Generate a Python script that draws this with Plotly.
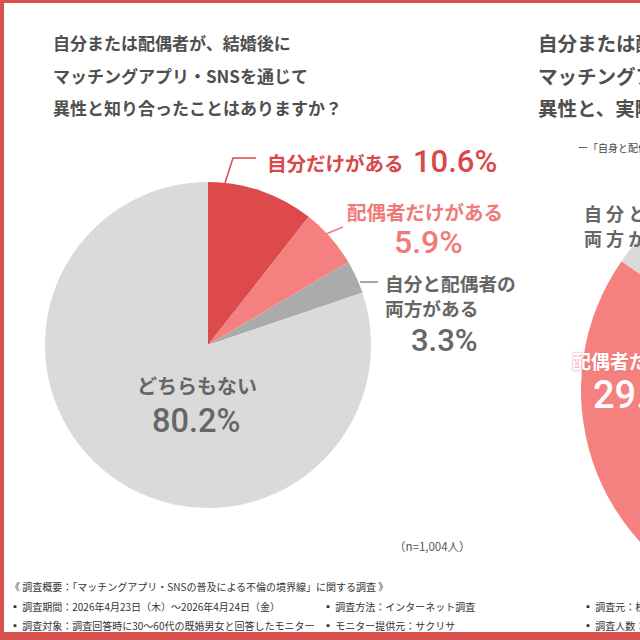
import plotly.graph_objects as go

W, H = 1280, 640

# ---- data ----
q1_labels = ["自分だけがある", "配偶者だけがある", "自分と配偶者の両方がある", "どちらもない"]
q1_values = [10.6, 5.9, 3.3, 80.2]
q1_colors = ["#dc4a4b", "#f58080", "#ababab", "#dadada"]

q2_labels = ["自分だけがある", "配偶者だけがある", "自分と配偶者の両方がある"]
q2_values = [55.2, 29.5, 15.3]
q2_colors = ["#dc4a4b", "#f58080", "#dadada"]

q1_title = ["自分または配偶者が、結婚後に", "マッチングアプリ・SNSを通じて", "異性と知り合ったことはありますか？"]
q2_title = ["自分または配偶者が、", "マッチングアプリ・SNSで知り合った", "異性と、実際に会ったことはありますか？"]
q2_sub = "ー「自身と配偶者のいずれかがある」と回答した人ー"
n_label = "（n=1,004人）"
footer = [
    ["《 調査概要：「マッチングアプリ・SNSの普及による不倫の境界線」に関する調査 》"],
    ["▪ 調査期間：2026年4月23日（木）～2026年4月24日（金）", "▪ 調査方法：インターネット調査", "▪ 調査元：株式会社サクリサ"],
    ["▪ 調査対象：調査回答時に30～60代の既婚男女と回答したモニター", "▪ モニター提供元：サクリサ", "▪ 調査人数：1,004人"],
]

JP = "Noto Sans CJK JP"
NUM = "Roboto, Noto Sans"
RED = "#d9484a"
PINK = "#f07a7a"
GRAY = "#666666"
TITLE = "#4f4f4f"


def px(x):
    return x / W


def py(y):
    return 1 - y / H


fig = go.Figure()

# left pie: center (208,345) r=163
cx, cy, r = 208, 345, 163
fig.add_trace(go.Pie(
    labels=q1_labels, values=q1_values, sort=False, direction="clockwise", rotation=0,
    marker=dict(colors=q1_colors, line=dict(width=0)), textinfo="none", hoverinfo="skip",
    domain=dict(x=[px(cx - r), px(cx + r)], y=[py(cy + r), py(cy - r)]), showlegend=False,
))

# right pie (partially visible)
cx2, cy2, r2 = 806, 390, 225
fig.add_trace(go.Pie(
    labels=q2_labels, values=q2_values, sort=False, direction="clockwise", rotation=0,
    marker=dict(colors=q2_colors, line=dict(width=0)), textinfo="none", hoverinfo="skip",
    domain=dict(x=[px(cx2 - r2), px(cx2 + r2)], y=[py(cy2 + r2), py(cy2 - r2)]), showlegend=False,
))

ann = []


def add(text, x, y, size, color, family=JP, weight="bold", xa="left", ya="middle", shadow=None):
    f = dict(family=family, size=size, color=color, weight=weight)
    if shadow:
        f["shadow"] = shadow
    ann.append(dict(text=text, x=px(x), y=py(y), xref="paper", yref="paper", showarrow=False,
                    xanchor=xa, yanchor=ya, font=f))


# titles
for i, t in enumerate(q1_title):
    add(t, 51, 43 + i * 32.5, 17, TITLE)
for i, t in enumerate(q2_title):
    add(t, 536, 43 + i * 32.5, 19.5, TITLE)
add(q2_sub, 576, 147, 10, "#444444", weight="normal")

# left labels
add(q1_labels[0], 265, 162, 19.5, RED)
add(f"{q1_values[0]}%", 411, 161, 31, RED, family=NUM, weight=500)
add(q1_labels[1], 345, 211, 19.5, PINK)
add(f"{q1_values[1]}%", 428, 242, 32, PINK, family=NUM, weight=500, xa="center")
add("自分と配偶者の", 383, 282, 18.7, GRAY)
add("両方がある", 383, 307, 18.7, GRAY)
add(f"{q1_values[2]}%", 444, 340, 31, GRAY, family=NUM, weight=500, xa="center")
add(q1_labels[3], 197, 385, 20, GRAY, xa="center")
add(f"{q1_values[3]}%", 196, 421, 32.5, GRAY, family=NUM, weight=500, xa="center")

# right labels
add("自 分 と 配 偶 者 の", 582, 213, 18, GRAY)
add("両 方 が あ る", 582, 238, 18, GRAY)
add(q2_labels[1], 570, 360, 19, "#ffffff", shadow="0px 0px 2px #e86a6a")
add(f"{q2_values[1]}%", 591, 395, 38, "#ffffff", family=NUM, weight=500)

# n and footer
add(n_label, 432, 546, 11.5, "#555555", weight="normal", xa="center")
fx = [8, 321, 581]
fy = [586, 606, 625]
for row, items in enumerate(footer):
    for j, t in enumerate(items):
        add(t, fx[j], fy[row], 10, "#333333", weight="normal")

shapes = []


def line_path(pts, color):
    d = "M " + " L ".join(f"{px(x)},{py(y)}" for x, y in pts)
    shapes.append(dict(type="path", path=d, xref="paper", yref="paper",
                       line=dict(color=color, width=1.5)))


line_path([(225, 183), (233, 158), (256, 158)], RED)
line_path([(326, 234), (343, 227)], PINK)
line_path([(360, 282), (378, 282)], "#888888")

# frame
BORDER = "#d9514f"
shapes.append(dict(type="rect", xref="paper", yref="paper", x0=0, x1=px(4), y0=0, y1=1,
                   fillcolor=BORDER, line=dict(width=0)))
shapes.append(dict(type="rect", xref="paper", yref="paper", x0=0, x1=1, y0=py(3), y1=1,
                   fillcolor=BORDER, line=dict(width=0)))
shapes.append(dict(type="rect", xref="paper", yref="paper", x0=0, x1=1, y0=0, y1=py(632),
                   fillcolor=BORDER, line=dict(width=0)))

fig.update_layout(
    width=W, height=H, margin=dict(l=0, r=0, t=0, b=0),
    paper_bgcolor="white", plot_bgcolor="white",
    annotations=ann, shapes=shapes, showlegend=False,
)

fig.write_html("out.html", post_script="document.body.style.margin='0';document.body.style.overflow='hidden';document.documentElement.style.overflow='hidden';")
